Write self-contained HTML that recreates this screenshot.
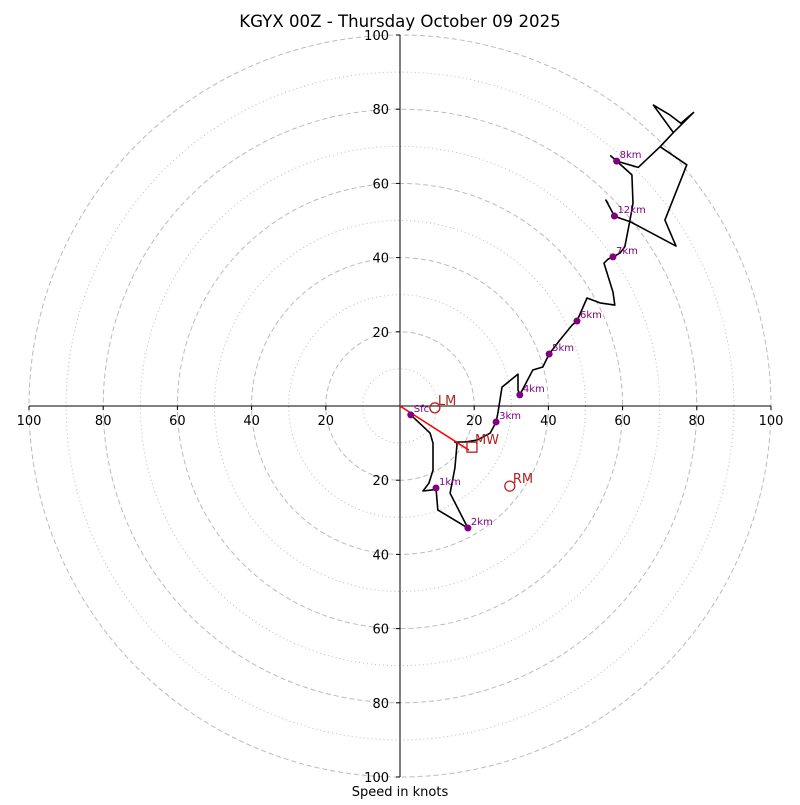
<!DOCTYPE html>
<html><head><meta charset="utf-8"><style>
body{margin:0;background:#fff}
svg text{font-family:"DejaVu Sans","Liberation Sans",sans-serif}
</style></head><body>
<svg id="c" width="800" height="800" xmlns="http://www.w3.org/2000/svg">
<rect width="800" height="800" fill="#fff"/>
<text x="400" y="27" text-anchor="middle" font-size="16.6">KGYX 00Z - Thursday October 09 2025</text>
<text x="400" y="796" text-anchor="middle" font-size="13">Speed in knots</text>
<g id="grid"></g><g id="axes"></g><g id="trace"></g><g id="marks"></g>
</svg>
<script>
const traceU=[2.9,8.1,8.9,8.9,7.8,6.2,8.9,9.7,10.2,18.3,13.5,14.8,15.4,14.8,17.5,20.8,24.3,25.9,26.4,27.5,31.8,31.8,32.3,35.8,38.5,40.2,43.1,46.4,47.7,50.4,53.9,57.9,57.4,55.0,56.1,57.4,59.3,60.6,62.0,62.8,62.5,58.4,56.8,58.4,64.2,70.1,73.7,79.1,75.7,72.8,68.3,73.7,70.1,77.3,71.4,74.4,62.0,59.3,57.8,55.5,56.1];
const traceV=[-2.4,-7.3,-10.0,-17.3,-20.8,-22.9,-22.6,-22.1,-28.0,-32.9,-23.5,-16.7,-10.0,-9.7,-9.7,-9.2,-7.3,-4.3,-1.9,5.1,8.6,4.3,3.0,9.7,10.5,14.0,17.8,21.8,22.9,29.1,27.8,27.2,30.7,38.5,39.6,40.2,41.2,42.9,50.1,54.7,62.3,66.0,67.4,66.0,64.3,69.9,73.7,79.1,76.2,78.4,81.1,73.7,69.9,65.0,50.1,43.1,49.7,50.6,51.2,55.5,54.6];
const markLabels=["Sfc","1km","2km","3km","4km","5km","6km","7km","8km","12km"];
const markU=[2.9,9.7,18.3,25.9,32.3,40.2,47.7,57.4,58.4,57.8];
const markV=[-2.4,-22.1,-32.9,-4.3,3.0,14.0,22.9,40.2,66.0,51.2];
const motionLabels=["LM","MW","RM"];
const motionU=[9.4,19.4,29.6];
const motionV=[-0.5,-11.1,-21.6];
const tickVals=[100,80,60,40,20];
const ns="http://www.w3.org/2000/svg";
const cx=400,cy=406,k=3.71;
const X=u=>cx+u*k, Y=v=>cy-v*k;
function mk(tag,attrs,parent){const e=document.createElementNS(ns,tag);for(const a in attrs)e.setAttribute(a,attrs[a]);document.getElementById(parent).appendChild(e);return e;}
for(let r=10;r<=100;r+=10){
 const e=mk('circle',{cx:cx,cy:cy,r:r*k,fill:'none',stroke:'#bbb','stroke-width':1,'stroke-dasharray':r%20===0?'5,3':'1,3'},'grid');
 
 
}
let e=mk('line',{x1:X(-100),y1:cy,x2:X(100),y2:cy,stroke:'#000','stroke-width':1},'axes');


e=mk('line',{x1:cx,y1:Y(100),x2:cx,y2:Y(-100),stroke:'#000','stroke-width':1},'axes');


[-1,1].forEach(s=>{tickVals.forEach(t=>{
 mk('line',{x1:X(s*t),y1:cy,x2:X(s*t),y2:cy+4,stroke:'#000'},'axes');
 let tx=mk('text',{x:X(s*t),y:cy+19,'text-anchor':'middle','font-size':13},'axes');tx.textContent=t;
 
 
 mk('line',{x1:cx-4,y1:Y(s*t),x2:cx,y2:Y(s*t),stroke:'#000'},'axes');
 let ty=mk('text',{x:cx-11,y:Y(s*t)+5,'text-anchor':'end','font-size':13},'axes');ty.textContent=t;
 
 
});});
let pts=traceU.map((u,i)=>X(u).toFixed(1)+','+Y(traceV[i]).toFixed(1)).join(' ');
e=mk('polyline',{points:pts,fill:'none',stroke:'#000','stroke-width':1.6,'stroke-linejoin':'round'},'trace');


e=mk('line',{x1:X(0),y1:Y(0),x2:X(motionU[1])-3,y2:Y(motionV[1])+3,stroke:'#f00','stroke-width':1.5},'trace');


markLabels.forEach((l,i)=>{
 let c=mk('circle',{cx:X(markU[i]),cy:Y(markV[i]),r:3.5,fill:'#800080'},'marks');
 
 
 let t=mk('text',{x:X(markU[i])+3,y:Y(markV[i])-3,'font-size':10,fill:'#800080'},'marks');t.textContent=l;
 
 
});
motionLabels.forEach((l,i)=>{
 const x=X(motionU[i]),y=Y(motionV[i]);
 let m;
 if(l==='MW'){m=mk('rect',{x:x-5,y:y-5,width:10,height:10,fill:'none',stroke:'#b22222','stroke-width':1.3},'marks');}
 else{m=mk('circle',{cx:x,cy:y,r:5,fill:'none',stroke:'#b22222','stroke-width':1.3},'marks');}
 
 
 let t=mk('text',{x:x+3,y:y-3,'font-size':13,fill:'#b22222'},'marks');t.textContent=l;
 
 
});
</script>
</body></html>
